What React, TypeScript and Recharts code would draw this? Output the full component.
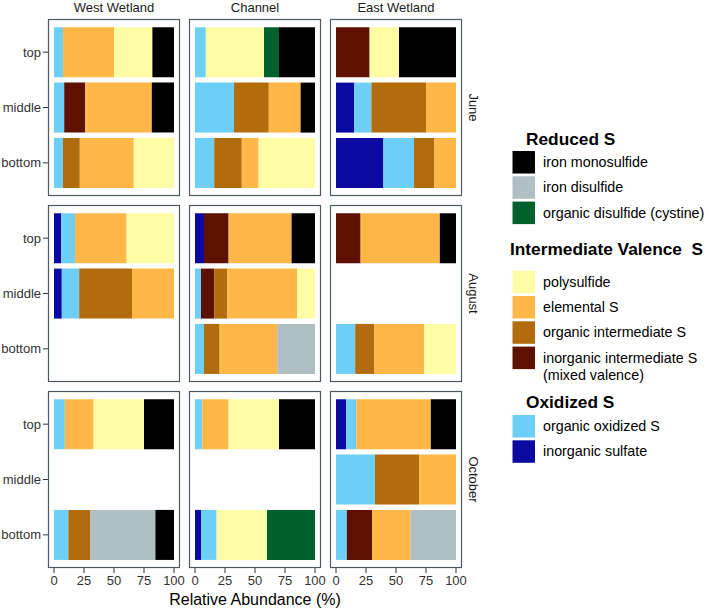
import React from "react";
import { BarChart, Bar, XAxis, YAxis } from "recharts";

const _ = null;

const months = ["June", "August", "October"];
const sites = ["West Wetland", "Channel", "East Wetland"];
const depths = ["top", "middle", "bottom"];
const xTicks = [0, 25, 50, 75, 100];

// values indexed [month][site][depth]; null = not sampled
const inorganicSulfate = [
  [[0, 0, 0], [0, 0, 0], [0, 15, 39.5]],
  [[6, 6.5, _], [7.5, 0, 0], [0, _, 0]],
  [[0, _, 0], [0, _, 5], [8.5, 0, 0]],
];
const organicOxidized = [
  [[7.5, 8.5, 7.5], [9, 32.5, 16], [0, 14.5, 25.5]],
  [[11.5, 14.5, _], [0, 5, 7.5], [0, _, 16]],
  [[9, _, 12], [6, _, 13], [8.5, 32.5, 9]],
];
const inorganicIntermediate = [
  [[0, 17.5, 0], [0, 0, 0], [28, 0, 0]],
  [[0, 0, _], [20.5, 11, 0], [20.5, _, 0]],
  [[0, _, 0], [0, _, 0], [0, 0, 21]],
];
const organicIntermediate = [
  [[0, 0, 14], [0, 29, 23], [0, 45.5, 17]],
  [[0, 44, _], [0, 11, 13], [0, _, 16]],
  [[0, _, 18], [0, _, 0], [0, 37, 0]],
];
const elementalS = [
  [[42.5, 55.5, 45], [0, 26.5, 14], [0, 25, 18]],
  [[43, 35, _], [52.5, 58, 48], [66, _, 41.5]],
  [[24, _, 0], [22, _, 0], [62, 30.5, 32]],
];
const polysulfide = [
  [[32, 0, 33.5], [48.5, 0, 47], [24.5, 0, 0]],
  [[39.5, 0, _], [0, 15, 0], [0, _, 26.5]],
  [[42, _, 0], [42, _, 42], [0, 0, 0]],
];
const cystine = [
  [[0, 0, 0], [12.5, 0, 0], [0, 0, 0]],
  [[0, 0, _], [0, 0, 0], [0, _, 0]],
  [[0, _, 0], [0, _, 40], [0, 0, 0]],
];
const ironDisulfide = [
  [[0, 0, 0], [0, 0, 0], [0, 0, 0]],
  [[0, 0, _], [0, 0, 31.5], [0, _, 0]],
  [[0, _, 54.5], [0, _, 0], [0, 0, 38]],
];
const ironMonosulfide = [
  [[18, 18.5, 0], [30, 12, 0], [47.5, 0, 0]],
  [[0, 0, _], [19.5, 0, 0], [13.5, _, 0]],
  [[25, _, 15.5], [30, _, 0], [21, 0, 0]],
];

// stack order, left to right
const species = [
  { key: "sulfate", label: "inorganic sulfate", color: "#0A0AA0", values: inorganicSulfate },
  { key: "orgOx", label: "organic oxidized S", color: "#6DCFF6", values: organicOxidized },
  { key: "inorgInt", label: "inorganic intermediate S", color: "#5F1100", values: inorganicIntermediate },
  { key: "orgInt", label: "organic intermediate S", color: "#B36C0C", values: organicIntermediate },
  { key: "elemental", label: "elemental S", color: "#FFB848", values: elementalS },
  { key: "poly", label: "polysulfide", color: "#FFFCA6", values: polysulfide },
  { key: "cystine", label: "organic disulfide (cystine)", color: "#00612F", values: cystine },
  { key: "pyrite", label: "iron disulfide", color: "#B0BFC4", values: ironDisulfide },
  { key: "fes", label: "iron monosulfide", color: "#000000", values: ironMonosulfide },
];

const legendGroups = [
  { title: "Reduced S", keys: ["fes", "pyrite", "cystine"] },
  { title: "Intermediate Valence  S", keys: ["poly", "elemental", "orgInt", "inorgInt"] },
  { title: "Oxidized S", keys: ["orgOx", "sulfate"] },
];

const FONT = "'Liberation Sans', Arial, Helvetica, sans-serif";
const PANEL_W = 132;
const PANEL_H = 177;
const STEP_X = 141;
const STEP_Y = 186;
const LEFT0 = 48;
const TOP0 = 19;
const YAXIS_W = 48;
const XAXIS_H = 30;

function panelData(m: number, s: number) {
  return depths.map((d, k) => {
    const row: any = { depth: d };
    species.forEach((sp) => {
      row[sp.key] = sp.values[m][s][k];
    });
    return row;
  });
}

function Panel({ m, s }: { m: number; s: number }) {
  const showY = s === 0;
  const showX = m === 2;
  const w = PANEL_W + (showY ? YAXIS_W : 0);
  const h = PANEL_H + (showX ? XAXIS_H : 0);
  const left = LEFT0 + STEP_X * s - (showY ? YAXIS_W : 0);
  const top = TOP0 + STEP_Y * m;
  return (
    <div style={{ position: "absolute", left, top, width: w, height: h, overflow: "visible" }}>
      <BarChart
        width={w}
        height={h}
        data={panelData(m, s)}
        layout="vertical"
        margin={{ top: 0, right: 0, bottom: 0, left: 0 }}
        barCategoryGap="5%"
        style={{ overflow: "visible" }}
      >
        <XAxis
          type="number"
          domain={[-5, 105]}
          ticks={xTicks}
          hide={!showX}
          height={XAXIS_H}
          axisLine={false}
          tickSize={5}
          tickMargin={3}
          tickLine={{ stroke: "#333" }}
          tick={{ fill: "#333", fontSize: 13, fontFamily: FONT }}
          interval={0}
        />
        <YAxis
          type="category"
          dataKey="depth"
          hide={!showY}
          width={YAXIS_W}
          padding={{ top: 5.5, bottom: 5.5 }}
          axisLine={false}
          tickSize={5}
          tickMargin={2}
          tickLine={{ stroke: "#333" }}
          tick={{ fill: "#333", fontSize: 13, fontFamily: FONT }}
          interval={0}
        />
        {species.map((sp) => (
          <Bar key={sp.key} dataKey={sp.key} stackId="s" fill={sp.color} isAnimationActive={false} />
        ))}
      </BarChart>
    </div>
  );
}

function Overlay() {
  const colorOf = (k: string) => species.find((s) => s.key === k)!;
  const keyX = 512.5;
  const keySize = 22.5;
  const labelX = 543;
  const titleLayout = [
    { x: 526, y: 145, keysTop: 151 },
    { x: 510, y: 255, keysTop: 270.7 },
    { x: 526, y: 408, keysTop: 415 },
  ];
  const keyStep = 25.3;
  return (
    <svg
      width={709}
      height={609}
      style={{ position: "absolute", left: 0, top: 0, pointerEvents: "none", fontFamily: FONT }}
    >
      {months.map((_m, mi) =>
        sites.map((_s, si) => (
          <rect
            key={`b${mi}${si}`}
            x={LEFT0 + STEP_X * si + 0.5}
            y={TOP0 + STEP_Y * mi + 0.5}
            width={PANEL_W - 1}
            height={PANEL_H - 1}
            fill="none"
            stroke="#4F5962"
            strokeWidth={1.2}
          />
        ))
      )}
      {sites.map((s, si) => (
        <text key={s} x={LEFT0 + STEP_X * si + PANEL_W / 2} y={11.5} textAnchor="middle" fontSize={13} fill="#1a1a1a">
          {s}
        </text>
      ))}
      {months.map((m, mi) => {
        const cy = TOP0 + STEP_Y * mi + PANEL_H / 2;
        return (
          <text key={m} x={469} y={cy} transform={`rotate(90 469 ${cy})`} textAnchor="middle" fontSize={13} fill="#1a1a1a">
            {m}
          </text>
        );
      })}
      <text x={255} y={604.5} textAnchor="middle" fontSize={16} fill="#000">
        Relative Abundance (%)
      </text>
      {legendGroups.map((g, gi) => {
        const L = titleLayout[gi];
        return (
          <g key={g.title}>
            <text x={L.x} y={L.y} fontSize={17.3} fontWeight="bold" fill="#000" style={{ whiteSpace: "pre" }} xmlSpace="preserve">
              {g.title}
            </text>
            {g.keys.map((k, ki) => {
              const sp = colorOf(k);
              const ky = L.keysTop + ki * keyStep;
              const cy = ky + keySize / 2;
              const isMixed = k === "inorgInt";
              return (
                <g key={k}>
                  <rect x={keyX} y={ky} width={keySize} height={keySize} fill={sp.color} />
                  <text x={labelX} y={cy + 4.8} fontSize={14.3} fill="#000">
                    {sp.label}
                  </text>
                  {isMixed && (
                    <text x={labelX} y={cy + 4.8 + 17.2} fontSize={14.3} fill="#000">
                      (mixed valence)
                    </text>
                  )}
                </g>
              );
            })}
          </g>
        );
      })}
    </svg>
  );
}

export default function App() {
  return (
    <div style={{ position: "absolute", left: 0, top: 0, width: 709, height: 609, background: "#fff", fontFamily: FONT }}>
      <style>{`.recharts-surface { overflow: visible; } .recharts-wrapper { overflow: visible; }`}</style>
      {months.map((_m, mi) => sites.map((_s, si) => <Panel key={`${mi}-${si}`} m={mi} s={si} />))}
      <Overlay />
    </div>
  );
}
